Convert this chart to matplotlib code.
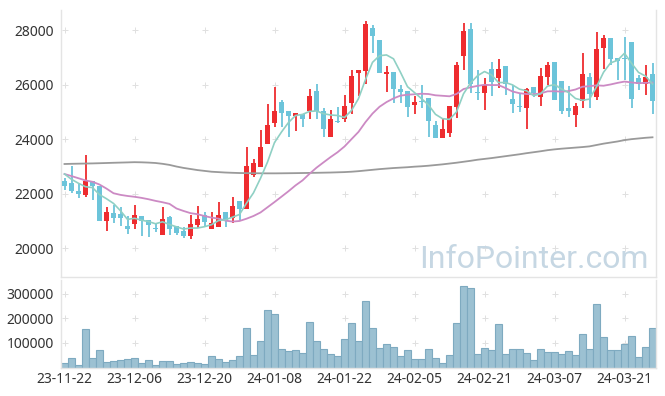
import matplotlib
matplotlib.use("Agg")
import matplotlib.pyplot as plt
import numpy as np
import pandas as pd

plt.rcParams['font.family'] = ['Noto Sans', 'DejaVu Sans']

opens = [22459, 22396, 22092, 21945, 22459, 22286, 21002, 21284, 21250, 20807,
         20870, 21174, 21028, 20745, 20477, 21127, 20807, 20624, 20452, 20844,
         21200, 20697, 20782, 21310, 21112, 21725, 21442, 22679, 22984, 23806,
         24599, 25358, 25028, 24855, 24918, 25028, 25762, 25028, 24085, 24650,
         24724, 25311, 26433, 26507, 28063, 27634, 26386, 26449, 25835, 25762,
         25247, 25400, 25494, 24514, 24026, 24231, 25186, 27058, 28037, 25720,
         25677, 26569, 26228, 26679, 25468, 25211, 25149, 25898, 25553, 26287,
         26815, 26129, 25127, 24882, 25406, 26265, 25553, 27351, 27696, 26962,
         26980, 27550, 26228, 26008, 26386]
highs = [22569, 23009, 22375, 23413, 22459, 22286, 21516, 21578, 21516, 21174,
         21567, 21174, 21028, 20906, 21516, 21174, 20807, 20782, 21211, 21552,
         21332, 21332, 21700, 21310, 21883, 21725, 23696, 23266, 24331, 25274,
         25898, 25432, 25028, 24966, 24918, 25835, 26019, 25127, 25064, 25174,
         25615, 26533, 26533, 28331, 28184, 27634, 26679, 26449, 25982, 25762,
         25592, 25982, 25494, 24643, 24735, 25211, 26815, 28247, 28247, 26533,
         26228, 26837, 26925, 26679, 25982, 25700, 25861, 25898, 26595, 26837,
         26815, 26129, 25958, 25311, 27146, 26412, 27938, 27817, 27696, 26962,
         27755, 27550, 26349, 26716, 26778]
lows = [22129, 22030, 21824, 21861, 21762, 21002, 20624, 20906, 20820, 20500,
        20686, 20440, 20415, 20598, 20477, 20477, 20477, 20356, 20320, 20723,
        20782, 20697, 20782, 20782, 20906, 21028, 21442, 22594, 22984, 23806,
        24452, 24452, 24085, 24294, 24430, 24724, 24724, 24085, 24085, 24600,
        24635, 24918, 25578, 26019, 27146, 26433, 25736, 25311, 25311, 24790,
        24907, 25150, 24063, 24026, 24026, 24063, 24760, 26533, 25700, 25432,
        25064, 25578, 25861, 25615, 24963, 25000, 24356, 25530, 25211, 25982,
        25432, 24918, 24797, 24430, 25127, 25127, 25432, 26558, 26716, 26165,
        26165, 25127, 25798, 25615, 24935]
closes = [22286, 22092, 21970, 22459, 22276, 21002, 21332, 21112, 21110, 20697,
          21200, 20991, 20855, 20708, 21053, 20708, 20561, 20452, 20881, 21064,
          20954, 20928, 21211, 21028, 21541, 21442, 23009, 23108, 23696, 24514,
          25028, 24943, 24855, 24966, 24724, 25578, 25028, 24356, 24724, 24635,
          25211, 26312, 26533, 28221, 27792, 26433, 26449, 25824, 25736, 25163,
          25348, 25350, 24643, 24026, 24367, 25211, 26716, 27975, 26008, 25700,
          25982, 26104, 26569, 26008, 25274, 25186, 25824, 25677, 26312, 26716,
          25432, 25039, 25039, 25211, 26386, 25652, 27292, 27696, 26936, 26863,
          26950, 25468, 26008, 26265, 25406]
volumes = [17000, 37500, 9000, 156000, 37500, 70000, 22500, 26500, 30500, 33000,
           37500, 18400, 30500, 10000, 26500, 26500, 14000, 18400, 22500, 18400,
           14000, 47000, 34700, 22500, 30500, 47000, 160000, 50000, 108000, 235000,
           218000, 75500, 67000, 71000, 59000, 186000, 108000, 75500, 55000, 47000,
           116000, 181000, 108000, 271000, 161000, 79600, 96000, 83700, 47000, 71000,
           34700, 34700, 75500, 38800, 18400, 51000, 181000, 332000, 324000, 55000,
           79600, 71000, 177000, 55000, 75500, 75500, 59000, 30500, 75500, 63000,
           63000, 55000, 67000, 51000, 137000, 75500, 259000, 124000, 71000, 71000,
           96000, 128000, 43000, 83700, 161000]
# moving-average values before enough closes exist
ma5_head = [22716, 22521, 22375, 22250]
ma20_head = [22716, 22640, 22560, 22480, 22430, 22330, 22180, 22010, 21950, 21910,
             21880, 21840, 21790, 21730, 21680, 21620, 21450, 21360, 21280]
ma120 = [23083, 23090, 23095, 23100, 23105, 23112, 23120, 23128, 23135, 23142,
         23150, 23145, 23135, 23120, 23090, 23050, 22990, 22940, 22900, 22860,
         22830, 22800, 22785, 22770, 22760, 22752, 22748, 22745, 22742, 22740,
         22740, 22742, 22745, 22748, 22752, 22756, 22760, 22765, 22770, 22778,
         22786, 22800, 22820, 22845, 22870, 22895, 22915, 22935, 22950, 22965,
         22985, 23000, 23020, 23045, 23070, 23100, 23130, 23165, 23200, 23240,
         23270, 23300, 23335, 23370, 23405, 23440, 23480, 23515, 23550, 23590,
         23620, 23645, 23665, 23685, 23705, 23730, 23780, 23830, 23870, 23910,
         23960, 23995, 24020, 24045, 24063]
tick_labels = ['23-11-22', '23-12-06', '23-12-20', '24-01-08', '24-01-22',
               '24-02-05', '24-02-21', '24-03-07', '24-03-21']
price_ticks = [20000, 22000, 24000, 26000, 28000]
vol_ticks = [100000, 200000, 300000]
watermark = 'InfoPointer.com'

n = len(closes)
x = np.arange(n)
o = np.array(opens); c = np.array(closes); h = np.array(highs); l = np.array(lows)
cs = pd.Series(closes, dtype=float)
ma5 = cs.rolling(5).mean().values
ma5[:len(ma5_head)] = ma5_head
ma20 = cs.rolling(20).mean().values
ma20[:len(ma20_head)] = ma20_head

RED = '#ee2c2f'
BLUE = '#6cc4da'

fig = plt.figure(figsize=(6.65, 3.96), dpi=100)
ax = fig.add_axes([61/665, 1-277/396, 595/665, 267/396])
axv = fig.add_axes([61/665, 1-367.5/396, 595/665, 87.5/396])

up = c >= o
colors = np.where(up, RED, BLUE)
ax.vlines(x, l, h, colors=colors, linewidth=1.3, zorder=2)
body_bottom = np.minimum(o, c)
body_h = np.maximum(np.abs(c - o), 20)
ax.bar(x, body_h, bottom=body_bottom, width=0.72, color=colors, edgecolor='none', zorder=3)

ax.plot(x, ma120, color='#9a9a9a', lw=1.3, zorder=4)
ax.plot(x, ma20, color='#cc8ac4', lw=1.3, zorder=4)
ax.plot(x, ma5, color='#8fd0c4', lw=1.2, zorder=4)

ax.set_xlim(-0.5, n - 0.5)
ax.set_ylim(18936, 28735)
ax.set_yticks(price_ticks)
ax.set_yticklabels([str(t) for t in price_ticks])
ax.set_xticks([])
ax.text(0.987, 0.035, watermark, transform=ax.transAxes, ha='right', va='baseline',
        fontsize=23, color='#c6d7e3', family='Roboto', zorder=1)

xt = np.arange(0, n, 10)
gx, gy = np.meshgrid(xt, price_ticks)
ax.scatter(gx.ravel(), gy.ravel(), marker='+', s=16, color='#e0e0e0', linewidths=0.7, zorder=0)

axv.bar(x, volumes, width=1.0, color='#9cc1d2', edgecolor='#7eaac0', linewidth=0.8, zorder=2)
axv.set_xlim(-0.5, n - 0.5)
axv.set_ylim(0, 357000)
axv.set_yticks(vol_ticks)
axv.set_yticklabels([str(t) for t in vol_ticks])
axv.set_xticks(xt)
axv.set_xticklabels(tick_labels)
gx, gy = np.meshgrid(xt, vol_ticks)
axv.scatter(gx.ravel(), gy.ravel(), marker='+', s=16, color='#e0e0e0', linewidths=0.7, zorder=0)

for a in (ax, axv):
    a.tick_params(length=0, labelsize=10, colors='#333333', pad=5)
    for s in a.spines.values():
        s.set_color('#e4e4e4')
        s.set_linewidth(1)
    a.spines['top'].set_visible(False)
axv.tick_params(axis='x', pad=3)

fig.savefig('out.png', dpi=100)
